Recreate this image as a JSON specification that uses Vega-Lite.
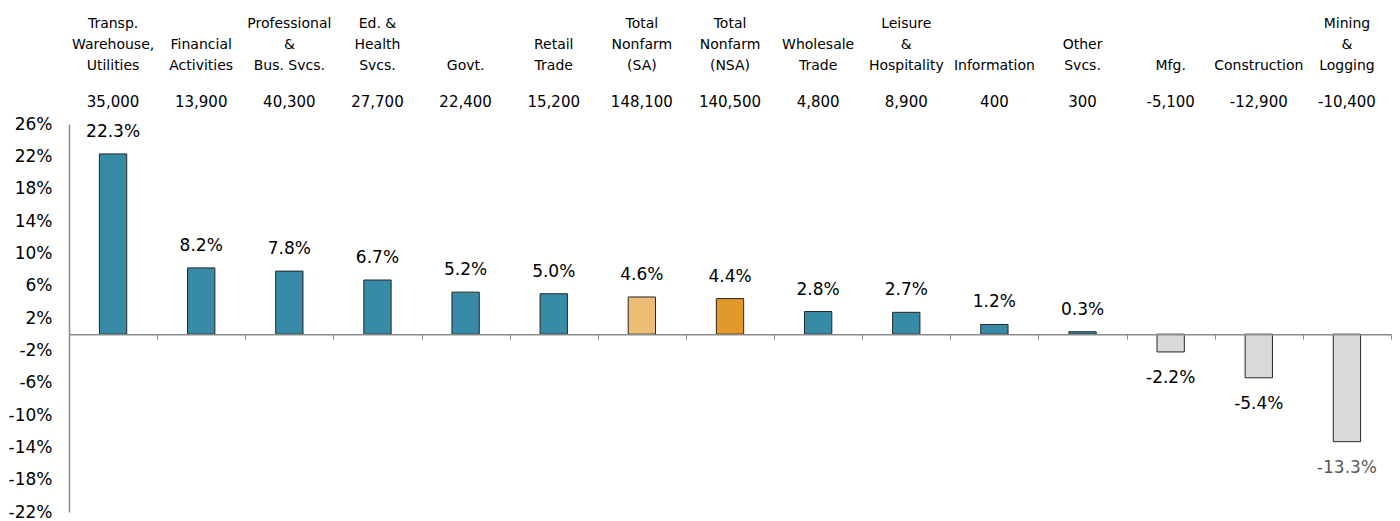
{
  "$schema": "https://vega.github.io/schema/vega-lite/v6.json",
  "autosize": {"type": "none"},
  "padding": {"left": 69, "top": 124, "right": 9, "bottom": 9},
  "width": 1322,
  "height": 388,
  "background": "white",
  "config": {
    "font": "DejaVu Sans",
    "view": {"stroke": null},
    "axis": {"labelOverlap": false}
  },
  "data": {
    "values": [
      {"sector": "Transp.|Warehouse,|Utilities", "pct": 22.3, "jobs": 35000},
      {"sector": "Financial|Activities", "pct": 8.2, "jobs": 13900},
      {"sector": "Professional|&|Bus. Svcs.", "pct": 7.8, "jobs": 40300},
      {"sector": "Ed. &|Health|Svcs.", "pct": 6.7, "jobs": 27700},
      {"sector": "Govt.", "pct": 5.2, "jobs": 22400},
      {"sector": "Retail|Trade", "pct": 5.0, "jobs": 15200},
      {"sector": "Total|Nonfarm|(SA)", "pct": 4.6, "jobs": 148100},
      {"sector": "Total|Nonfarm|(NSA)", "pct": 4.4, "jobs": 140500},
      {"sector": "Wholesale|Trade", "pct": 2.8, "jobs": 4800},
      {"sector": "Leisure|&|Hospitality", "pct": 2.7, "jobs": 8900},
      {"sector": "Information", "pct": 1.2, "jobs": 400},
      {"sector": "Other|Svcs.", "pct": 0.3, "jobs": 300},
      {"sector": "Mfg.", "pct": -2.2, "jobs": -5100},
      {"sector": "Construction", "pct": -5.4, "jobs": -12900},
      {"sector": "Mining|&|Logging", "pct": -13.3, "jobs": -10400}
    ]
  },
  "transform": [
    {"calculate": "replace(format(datum.pct, '.1f'), '\u2212', '-') + '%'", "as": "lbl"},
    {"calculate": "replace(format(datum.jobs, ','), '\u2212', '-')", "as": "jobsLbl"}
  ],
  "resolve": {"axis": {"x": "independent", "y": "independent"}},
  "layer": [
    {
      "mark": {"type": "bar", "width": {"band": 0.31}, "stroke": "#262626", "strokeWidth": 1},
      "encoding": {
        "x": {
          "field": "sector", "type": "nominal", "sort": null,
          "scale": {"paddingInner": 0, "paddingOuter": 0},
          "axis": {
            "orient": "top", "title": null, "domain": false, "ticks": false, "tickSize": 0,
            "labelAngle": 0, "labelFontSize": 14, "labelColor": "#000000",
            "labelPadding": 94, "labelLineHeight": 21, "labelOverlap": false,
            "labelExpr": "split(slice('\u2800|\u2800|', 0, 6 - 2 * length(split(datum.label, '|'))) + datum.label, '|')"
          }
        },
        "y": {
          "field": "pct", "type": "quantitative",
          "scale": {"domain": [-22, 26], "nice": false, "zero": false},
          "axis": {
            "title": null, "values": [-22, -18, -14, -10, -6, -2, 2, 6, 10, 14, 18, 22, 26],
            "labelExpr": "datum.value + '%'", "grid": false, "ticks": false,
            "labelOverlap": false,
            "domainColor": "#8c8c8c", "domainWidth": 1.5,
            "labelFontSize": 17, "labelColor": "#000000", "labelPadding": 17
          }
        },
        "color": {
          "condition": [
            {"test": "datum.sector == 'Total|Nonfarm|(SA)'", "value": "#ecbd74"},
            {"test": "datum.sector == 'Total|Nonfarm|(NSA)'", "value": "#e2992a"},
            {"test": "datum.pct < 0", "value": "#d9d9d9"}
          ],
          "value": "#378ba6"
        }
      }
    },
    {
      "mark": {"type": "text", "baseline": "alphabetic", "dy": -17, "fontSize": 17, "color": "#000000"},
      "encoding": {
        "x": {
          "field": "sector", "type": "nominal", "sort": null,
          "scale": {"paddingInner": 0, "paddingOuter": 0},
          "axis": {
            "orient": "bottom", "offset": -177.8, "title": null, "labels": false,
            "domain": true, "domainColor": "#8c8c8c", "domainWidth": 1.5,
            "ticks": true, "tickSize": 5, "tickColor": "#8c8c8c", "tickBand": "extent",
            "grid": false, "zindex": 1
          }
        },
        "y": {"field": "pct", "type": "quantitative", "axis": null},
        "text": {"condition": {"test": "datum.pct >= 0", "field": "lbl"}, "value": ""}
      }
    },
    {
      "mark": {"type": "text", "baseline": "alphabetic", "dy": 31, "fontSize": 17},
      "encoding": {
        "x": {"field": "sector", "type": "nominal", "sort": null, "axis": null},
        "y": {"field": "pct", "type": "quantitative", "axis": null},
        "text": {"condition": {"test": "datum.pct < 0", "field": "lbl"}, "value": ""},
        "color": {"condition": {"test": "datum.pct < -10", "value": "#595959"}, "value": "#000000"}
      }
    },
    {
      "mark": {"type": "text", "baseline": "middle", "fontSize": 15, "color": "#000000"},
      "encoding": {
        "x": {"field": "sector", "type": "nominal", "sort": null, "axis": null},
        "y": {"datum": 28.72, "type": "quantitative", "axis": null},
        "text": {"field": "jobsLbl"}
      }
    }
  ]
}
